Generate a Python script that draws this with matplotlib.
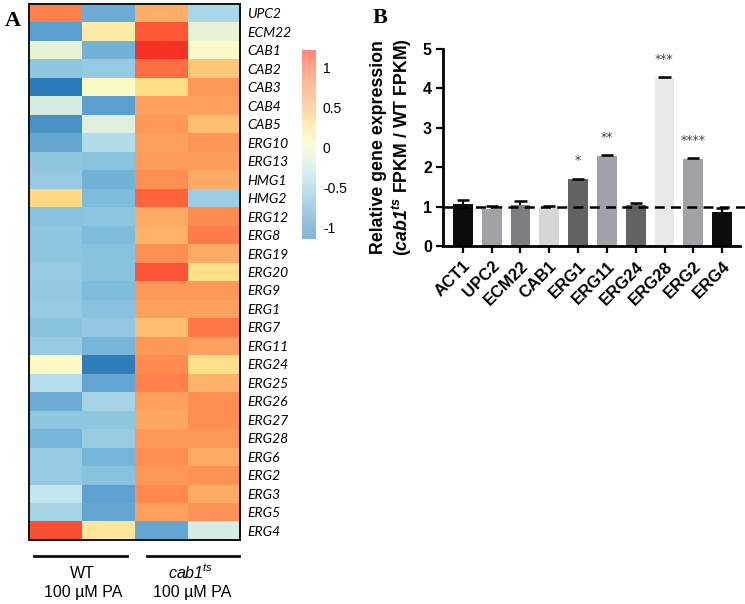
import numpy as np
import matplotlib
matplotlib.use("Agg")
import matplotlib.pyplot as plt
from matplotlib.colors import LinearSegmentedColormap, Normalize
from matplotlib.lines import Line2D

plt.rcParams['font.family'] = ['Liberation Sans', 'DejaVu Sans']
plt.rcParams['mathtext.fontset'] = 'custom'
plt.rcParams['mathtext.rm'] = 'Liberation Sans'
plt.rcParams['mathtext.it'] = 'Liberation Sans:italic'
plt.rcParams['mathtext.sf'] = 'Liberation Sans:italic'
plt.rcParams['mathtext.bf'] = 'Liberation Sans:bold:italic'

# ---------------- Panel A data ----------------
genes = ["UPC2", "ECM22", "CAB1", "CAB2", "CAB3", "CAB4", "CAB5", "ERG10", "ERG13",
         "HMG1", "HMG2", "ERG12", "ERG8", "ERG19", "ERG20", "ERG9", "ERG1", "ERG7",
         "ERG11", "ERG24", "ERG25", "ERG26", "ERG27", "ERG28", "ERG6", "ERG2", "ERG3",
         "ERG5", "ERG4"]
wt_rep1 = [0.90, -0.90, -0.10, -0.60, -1.30, -0.20, -1.05, -0.85, -0.60, -0.55,
           0.33, -0.63, -0.60, -0.60, -0.55, -0.57, -0.55, -0.63, -0.55, 0.03,
           -0.38, -0.80, -0.60, -0.73, -0.55, -0.55, -0.30, -0.47, 1.15]
wt_rep2 = [-0.80, 0.15, -0.75, -0.55, 0.02, -0.90, -0.15, -0.40, -0.62, -0.75,
           -0.68, -0.60, -0.68, -0.63, -0.63, -0.68, -0.63, -0.58, -0.73, -1.28,
           -0.85, -0.47, -0.60, -0.53, -0.73, -0.63, -0.88, -0.85, 0.22]
cab_rep1 = [0.60, 1.10, 1.30, 1.00, 0.30, 0.70, 0.75, 0.70, 0.72, 0.82,
            1.05, 0.62, 0.56, 0.82, 1.12, 0.75, 0.70, 0.50, 0.75, 0.85,
            0.90, 0.70, 0.64, 0.75, 0.83, 0.75, 0.86, 0.70, -0.85]
cab_rep2 = [-0.45, -0.10, 0.00, 0.45, 0.75, 0.70, 0.50, 0.78, 0.72, 0.62,
            -0.52, 0.85, 0.92, 0.62, 0.30, 0.75, 0.70, 0.95, 0.70, 0.28,
            0.56, 0.83, 0.83, 0.75, 0.62, 0.80, 0.62, 0.80, -0.20]
cbar_ticks = [-1, -0.5, 0, 0.5, 1]
cbar_ticklabels = ["-1", "-0.5", "0", "0.5", "1"]

# ---------------- Panel B data ----------------
bar_genes = ["ACT1", "UPC2", "ECM22", "CAB1", "ERG1", "ERG11", "ERG24", "ERG28", "ERG2", "ERG4"]
bar_values = [1.07, 0.93, 1.04, 1.00, 1.69, 2.28, 1.03, 4.27, 2.20, 0.87]
bar_errors = [0.09, 0.08, 0.11, 0.01, 0.02, 0.04, 0.05, 0.02, 0.03, 0.10]
bar_colors = ["#0c0c0c", "#a2a2a6", "#7e7e80", "#d6d6d6", "#626262",
              "#a2a2a6", "#626262", "#e8e8e8", "#a2a2a6", "#0c0c0c"]
sig_labels = ["", "", "", "", "*", "**", "", "***", "****", ""]

W, H = 745, 604
fig = plt.figure(figsize=(W / 100, H / 100), dpi=100)

def fx(px):
    return px / W

def fy(py):
    return 1 - py / H

# colormap
cm_vals = [-1.35, -0.9, -0.6, -0.3, 0.0, 0.3, 0.6, 0.85, 1.1, 1.35]
cm_cols = ["#2878b8", "#5ba0d0", "#8ec6e0", "#c4e6f0", "#fbfbc8",
           "#ffdf88", "#fdad68", "#ff8c52", "#ff5a38", "#f52a20"]
vmin, vmax = cm_vals[0], cm_vals[-1]
cmap = LinearSegmentedColormap.from_list(
    "hm", [((v - vmin) / (vmax - vmin), c) for v, c in zip(cm_vals, cm_cols)])
norm = Normalize(vmin=vmin, vmax=vmax)

# ---------------- Heatmap ----------------
axh = fig.add_axes([fx(29), fy(540), fx(240 - 29), (540 - 4) / H])
data = np.array([wt_rep1, wt_rep2, cab_rep1, cab_rep2]).T
axh.imshow(data, cmap=cmap, norm=norm, aspect='auto', interpolation='nearest')
axh.set_xticks([])
axh.yaxis.tick_right()
axh.set_yticks(range(len(genes)))
axh.set_yticklabels(genes, family='Lato', style='italic', fontsize=10)
axh.tick_params(axis='y', length=0, pad=5)
for s in axh.spines.values():
    s.set_linewidth(1.4)
    s.set_color('#111111')

# group lines and labels
fig.add_artist(Line2D([fx(34), fx(127)], [fy(556), fy(556)], color='#111111', lw=2))
fig.add_artist(Line2D([fx(147), fx(239)], [fy(556), fy(556)], color='#111111', lw=2))
fig.text(fx(82), fy(573), "WT", ha='center', va='center', fontsize=11.5)
fig.text(fx(83), fy(593), "100 µM PA", ha='center', va='center', fontsize=11.5)
fig.text(fx(191), fy(572), r"$\mathsf{cab1}^{\mathsf{ts}}$", ha='center', va='center', fontsize=11.5)
fig.text(fx(192), fy(593), "100 µM PA", ha='center', va='center', fontsize=11.5)

fig.text(fx(5), fy(26), "A", family='Liberation Serif', fontweight='bold', fontsize=16,
         ha='left', va='baseline')

# ---------------- Colorbar ----------------
cb_lo, cb_hi = -1.15, 1.22
axc = fig.add_axes([fx(302), fy(239), fx(14), 189 / H])
grad = np.linspace(cb_lo, cb_hi, 70).reshape(-1, 1)
axc.imshow(grad, cmap=cmap, norm=norm, aspect='auto', origin='lower',
           extent=[0, 1, cb_lo, cb_hi], alpha=0.62, interpolation='nearest')
axc.set_ylim(cb_lo, cb_hi)
axc.set_xticks([])
axc.yaxis.tick_right()
axc.set_yticks(cbar_ticks)
axc.set_yticklabels(cbar_ticklabels, fontsize=10)
axc.tick_params(axis='y', length=0, pad=5)
for s in axc.spines.values():
    s.set_visible(False)

# ---------------- Bar chart ----------------
x0, x1 = 443, 740
axb = fig.add_axes([fx(x0), fy(246), fx(x1 - x0), (246 - 49) / H])
xpos = np.arange(len(bar_genes))
axb.bar(xpos, bar_values, width=0.69, color=bar_colors, zorder=2)
tops = np.array(bar_values) + np.array(bar_errors)
axb.vlines(xpos, bar_values, tops, color='black', lw=1.6, zorder=3)
axb.hlines(tops, xpos - 0.21, xpos + 0.21, color='black', lw=1.8, zorder=3)
axb.axhline(1, xmin=0, xmax=1.02, color='black', ls=(0, (4, 2.5)), lw=1.8,
            zorder=4, clip_on=False)
for xi, v, lab in zip(xpos, bar_values, sig_labels):
    if lab:
        axb.text(xi, v + 0.47, lab, ha='center', va='center', fontsize=9,
                 color='#444444', family='DejaVu Sans')
axb.set_xlim(-0.69, 9.62)
axb.set_ylim(0, 5)
axb.set_yticks([0, 1, 2, 3, 4, 5])
axb.set_yticklabels(["0", "1", "2", "3", "4", "5"], fontsize=11.5, fontweight='bold')
axb.set_xticks(xpos)
axb.set_xticklabels(bar_genes, rotation=45, ha='right', rotation_mode='anchor',
                    fontsize=12, fontweight='bold')
axb.tick_params(axis='both', width=1.6, length=5, direction='out', pad=3)
axb.tick_params(axis='x', pad=4)
for side in ['top', 'right']:
    axb.spines[side].set_visible(False)
for side in ['left', 'bottom']:
    axb.spines[side].set_linewidth(2)

fig.text(fx(392), fy(147),
         "Relative gene expression\n" + r"($\mathbf{cab1}^{\mathbf{ts}}$ FPKM / WT FPKM)",
         rotation=90, ha='center', va='center', fontsize=12.8, fontweight='bold',
         linespacing=1.12, multialignment='center')

fig.text(fx(373), fy(23), "B", family='Liberation Serif', fontweight='bold', fontsize=16,
         ha='left', va='baseline')

fig.savefig("out.png", dpi=100)
